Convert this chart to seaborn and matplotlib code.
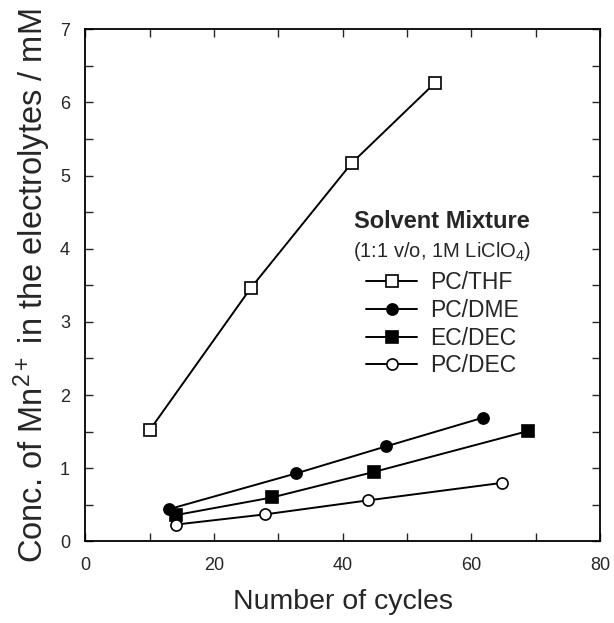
import matplotlib
matplotlib.use("Agg")
import matplotlib.pyplot as plt
import seaborn as sns
from matplotlib.ticker import MultipleLocator

# data
thf_x = [10.0, 25.7, 41.4, 54.4]
thf_y = [1.52, 3.46, 5.17, 6.27]
dme_x = [13.0, 32.8, 46.8, 61.8]
dme_y = [0.44, 0.93, 1.30, 1.69]
ecdec_x = [14.1, 29.0, 44.9, 68.9]
ecdec_y = [0.36, 0.60, 0.95, 1.51]
pcdec_x = [14.1, 28.0, 43.9, 64.8]
pcdec_y = [0.23, 0.37, 0.56, 0.80]

series = [
    ("PC/THF", thf_x, thf_y, "s", "white"),
    ("PC/DME", dme_x, dme_y, "o", "black"),
    ("EC/DEC", ecdec_x, ecdec_y, "s", "black"),
    ("PC/DEC", pcdec_x, pcdec_y, "o", "white"),
]

sns.set_style("ticks")
plt.rcParams["font.family"] = ["Liberation Sans", "DejaVu Sans"]
plt.rcParams["mathtext.fontset"] = "custom"
plt.rcParams["mathtext.rm"] = "Liberation Sans"
plt.rcParams["mathtext.it"] = "Liberation Sans"
plt.rcParams["mathtext.bf"] = "Liberation Sans:bold"

fig = plt.figure(figsize=(6.14, 6.23), dpi=100)
ax = fig.add_axes([0.139, 0.131, 0.838, 0.822])

for name, xs, ys, mk, fc in series:
    sns.lineplot(x=xs, y=ys, ax=ax, color="black", linewidth=1.4,
                 marker=mk, markersize=8, markerfacecolor=fc,
                 markeredgecolor="black", markeredgewidth=1.2, label=name)

ax.set_xlim(0, 80)
ax.set_ylim(0, 7)
ax.xaxis.set_major_locator(MultipleLocator(20))
ax.xaxis.set_minor_locator(MultipleLocator(10))
ax.yaxis.set_major_locator(MultipleLocator(1))
ax.yaxis.set_minor_locator(MultipleLocator(0.5))
ax.tick_params(which="both", direction="in", top=True, right=True,
               labelsize=13, width=1.0)
ax.tick_params(which="major", length=6, pad=11)
ax.tick_params(which="minor", length=6)
for s in ax.spines.values():
    s.set_linewidth(1.3)
    s.set_color("black")

ax.set_xlabel("Number of cycles", fontsize=20.5, labelpad=11)
ax.set_ylabel("Conc. of Mn$^{2+}$ in the electrolytes / mM", fontsize=23.5, labelpad=5)

ax.text(55.4, 4.37, "Solvent Mixture", fontsize=17, fontweight="bold",
        ha="center", va="center")
ax.text(55.5, 3.96, "(1:1 v/o, 1M LiClO$_4$)", fontsize=14.5,
        ha="center", va="center")

handles, labels = ax.get_legend_handles_labels()
ax.legend(handles, labels, loc="upper left", bbox_to_anchor=(43.7, 3.69),
          bbox_transform=ax.transData, frameon=False, fontsize=16.5,
          handlelength=2.2, handletextpad=0.6, labelspacing=0.2,
          borderaxespad=0, borderpad=0)

fig.savefig("out.png", dpi=100)
